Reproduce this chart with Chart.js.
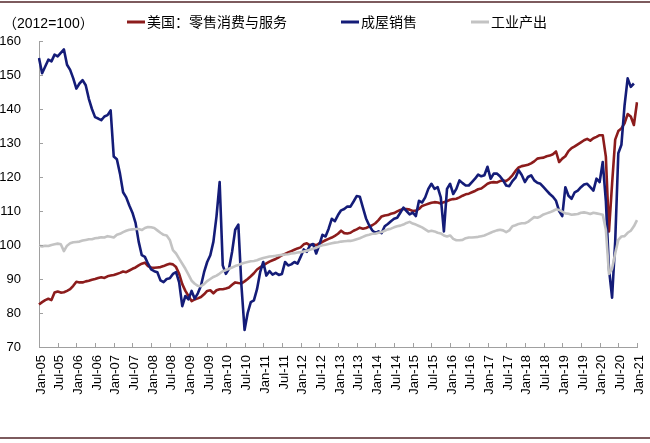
<!DOCTYPE html>
<html>
<head>
<meta charset="utf-8">
<script src="https://cdn.jsdelivr.net/npm/chart.js@4.4.1/dist/chart.umd.min.js"></script>
<style>
  html, body { margin: 0; padding: 0; background: #fff; }
  #wrap { width: 650px; height: 443px; }
</style>
</head>
<body>
<div id="wrap"><canvas id="chart" width="650" height="443"></canvas></div>
<script>
// monthly, Jan-05 .. Jan-21, index 2012=100
const MONTH_NAMES = ["Jan","Feb","Mar","Apr","May","Jun","Jul","Aug","Sep","Oct","Nov","Dec"];
const months = [];
for (let y = 2005; y <= 2021; y++) {
  for (let m = 0; m < 12; m++) {
    if (months.length < 193) months.push(MONTH_NAMES[m] + "-" + String(y).slice(2));
  }
}

const yTicks = [70, 80, 90, 100, 110, 120, 130, 140, 150, 160];
const unitLabel = "（2012=100）";

const retail = [
  82.5, 83.2, 83.8, 84.2, 83.8, 86, 86.3, 86, 86.1, 86.5, 87, 88, 89.2, 89, 89, 89.3, 89.5, 89.8, 90, 90.3,
  90.5, 90.3, 90.8, 91, 91.2, 91.5, 91.8, 92.2, 92, 92.5, 93, 93.4, 94, 94.5, 94.8, 93.8, 93.4, 93.3, 93.4,
  93.5, 93.8, 94.2, 94.5, 94.3, 93.5, 91.5, 88.5, 86.5, 85, 83.5, 84, 84.3, 84.7, 85.5, 86.5, 86.7, 85.8, 86.7,
  87, 87, 87.2, 87.5, 88.3, 89, 88.8, 88.7, 89.3, 90, 90.8, 91.7, 92.8, 93.4, 94, 94.6, 95.1, 95.5, 95.9, 96.4,
  97, 97.4, 97.8, 98.2, 98.6, 99, 99.3, 100.2, 100.5, 99.9, 100.2, 99.9, 100.5, 100.9, 101.4, 101.8, 102.2, 102.7,
  103.3, 104.2, 103.5, 103.4, 103.6, 104.2, 104.6, 105.1, 104.8, 105, 105.4, 105.8, 106.4, 107.3, 108.4, 108.7,
  108.8, 109.2, 109.4, 109.9, 110.3, 110.6,
  110.6, 110.4, 110, 110.1, 110.6, 111.5, 111.8, 112.1, 112.4, 112.6, 112.5, 112.2, 112.6, 112.9, 113.3, 113.5,
  113.6, 114, 114.5, 114.9, 115.1, 115.5, 115.9, 116.4, 116.6, 117.3, 118, 118.4, 118.5, 118.4, 118.8, 119, 118.8,
  119.5, 120.5, 121.8, 122.8, 123.2,
  123.4, 123.6, 124, 124.6, 125.4, 125.6, 125.7, 126.1, 126.3, 126.7, 127.5, 124.4, 125.4, 126.1, 127.6, 128.5,
  129, 129.6, 130.2, 130.8, 131.2, 130.7, 131.4, 131.8, 132.3, 132.3, 126, 104, 118, 131, 133.5, 134.3, 135.8,
  138.5, 137.8, 135.3, 142
];

const homeSales = [
  155, 150.5, 152.5, 154.5, 154, 156, 155.5, 156.5, 157.5, 153, 151.5, 149, 146, 147.5, 148.5, 147, 143, 140,
  137.6, 137.2, 136.7, 137.8, 138.2, 139.6, 126, 125.2, 121, 115.5, 114, 111.6, 109.5, 106.5, 101, 97, 96.5, 94.5,
  92.8, 92.3, 92,
  89.6, 89.1, 90, 90.2, 91.5, 92, 89, 82, 85, 84, 86.5, 84.2, 85.8, 88, 92, 95, 97, 101, 108.5, 118.5, 94, 91.5,
  93, 98, 104.5, 106, 88, 75, 80, 83.2, 83.7, 87, 92, 95, 91, 92.3, 91.3, 91.8, 91.2,
  91.5, 95, 94, 94.3, 95, 94.5, 96.5, 98.7, 98, 99.9, 100.3, 97.5, 100, 103, 102.5, 104.8, 107.7, 107, 108.8,
  110.2, 110.6, 111.3, 111.3, 112.8, 114.4, 114.2, 111, 107.8, 105.8, 104.3, 103.5, 104, 103.5, 105.5, 106.2, 107,
  107.7, 108, 109.5, 111,
  110, 109, 109.5, 108.5, 113, 112.5, 114, 116.5, 118, 116.5, 117, 114, 104, 116.5, 118, 115, 116.5, 119, 118.2,
  117.5, 117.5, 118.5, 119.5, 120.7, 120.2, 120.5, 123, 119.5, 121, 121, 120.2, 119, 117.5, 117.3, 118.8, 119.8,
  122, 120.6,
  118.5, 120, 120.5, 119, 118.3, 118, 117, 116, 115, 114.2, 113, 110, 108.5, 117, 114.5, 113.6, 115.5, 116, 117,
  117.8, 118, 117, 116, 119.5, 118.5, 124.4, 113, 93, 84.5, 101, 127, 129.5, 141, 149, 146.5, 147.5, null
];

const industry = [
  99.8, 99.6, 99.8, 99.7, 100, 100.2, 100.4, 100.2, 98.2, 99.8, 100.5, 100.8, 100.9, 101, 101.3, 101.5, 101.7,
  101.7, 102, 102.1, 102.3, 102.2, 102.6, 102.4, 102.2, 103, 103.3, 103.8, 104.2, 104.5, 104.6, 104.7, 104.7,
  104.4, 105, 105.3, 105.2, 105, 104.3,
  103.6, 103, 102.8, 101.5, 98.5, 97.5, 96, 94.5, 93, 91.3, 89.5, 88.6, 88, 87.9, 88.5, 89.4, 90, 90.6, 91, 91.6,
  92.3, 92.6, 93, 93.4, 93.8, 94.1, 94.5, 94.8, 95, 95.2, 95.3, 95.5, 95.9, 96.2, 96.4, 96.6, 96.7, 96.8, 97,
  97.1, 97.2, 97.3, 97.5, 97.6, 97.8, 97.9, 98.1, 98.3, 98.6, 98.9, 99.2, 99.6, 99.9, 100.1, 100.3, 100.5, 100.7,
  100.8, 101, 101.1, 101.2, 101.2, 101.4, 101.7, 102, 102.4, 102.8, 103, 103.3, 103.3, 103.6, 103.8, 104.2,
  104.6, 104.8, 105.2, 105.5, 105.7, 106,
  106.5, 106.8, 106.3, 106, 105.6, 105.2, 104.6, 104, 104.2, 104, 103.6, 103.4, 102.8, 102.5, 102.8, 101.8,
  101.4, 101.4, 101.5, 102, 102.2, 102.2, 102.3, 102.4, 102.6, 102.8, 103.2, 103.6, 104, 104.3, 104.5, 104.3,
  103.8, 104.3, 105.5, 105.8, 106.2, 106.4,
  106.4, 106.8, 107.5, 108.2, 108, 108.4, 109, 109.3, 109.6, 110, 110.5, 110.3, 109.8, 109.3, 109.2, 108.9, 109,
  109.1, 109.5, 109.6, 109.4, 109.1, 109.5, 109.3, 109.1, 108.9, 104.5, 91.5, 93, 97.5, 101.5, 102.5, 102.6,
  103.6, 104.2, 105.5, 107.3
];

const AXIS = "#a0a0a0";
const NUM_FONT = "'Liberation Sans', Arial, sans-serif";
const CJK_FONT = "'Noto Sans CJK SC', sans-serif";

// inner tick marks, unit label, legend, page rules
const decor = {
  id: "decor",
  beforeDraw(chart) {
    const ctx = chart.ctx;
    ctx.save();
    ctx.fillStyle = "#fff";
    ctx.fillRect(0, 0, chart.width, chart.height);
    ctx.restore();
  },
  afterDraw(chart) {
    const { ctx, chartArea: a } = chart;
    const x = chart.scales.x, y = chart.scales.y;
    ctx.save();

    ctx.strokeStyle = AXIS;
    ctx.lineWidth = 1;
    ctx.beginPath();
    yTicks.forEach(v => {
      const py = Math.round(y.getPixelForValue(v)) + 0.5;
      ctx.moveTo(a.left, py);
      ctx.lineTo(a.left + 4, py);
    });
    for (let i = 0; i < months.length; i += 6) {
      const px = Math.round(x.getPixelForValue(i)) + 0.5;
      ctx.moveTo(px, a.bottom);
      ctx.lineTo(px, a.bottom - 4);
    }
    ctx.stroke();

    ctx.strokeStyle = "#7d5b5e";
    ctx.lineWidth = 2;
    ctx.beginPath();
    ctx.moveTo(0, 2); ctx.lineTo(chart.width, 2);
    ctx.moveTo(0, 438); ctx.lineTo(chart.width, 438);
    ctx.stroke();

    ctx.fillStyle = "#000";
    ctx.textBaseline = "middle";
    ctx.font = "14px " + NUM_FONT + ", " + CJK_FONT;
    ctx.fillText(unitLabel, 3, 24);

    ctx.font = "14px " + CJK_FONT;
    let lx = 127;
    chart.data.datasets.forEach(ds => {
      ctx.strokeStyle = ds.borderColor;
      ctx.lineWidth = 3;
      ctx.beginPath();
      ctx.moveTo(lx, 22);
      ctx.lineTo(lx + 18, 22);
      ctx.stroke();
      ctx.fillText(ds.label, lx + 20, 22);
      lx += 20 + ctx.measureText(ds.label).width + 54;
    });
    ctx.restore();
  }
};

new Chart(document.getElementById("chart"), {
  type: "line",
  data: {
    labels: months,
    datasets: [
      { label: "美国：零售消费与服务", data: retail, borderColor: "#8c1c1c", order: 3 },
      { label: "成屋销售", data: homeSales, borderColor: "#141c78", order: 2 },
      { label: "工业产出", data: industry, borderColor: "#c3c3c3", order: 1 }
    ]
  },
  options: {
    responsive: false,
    animation: false,
    layout: { padding: { top: 41, right: 13, left: 0, bottom: 0 } },
    elements: {
      point: { radius: 0 },
      line: { borderWidth: 2.6, tension: 0, borderJoinStyle: "round" }
    },
    plugins: { legend: { display: false }, tooltip: { enabled: false } },
    scales: {
      x: {
        offset: false,
        grid: { display: false, drawTicks: false },
        border: { color: AXIS },
        ticks: {
          autoSkip: false,
          minRotation: 90,
          maxRotation: 90,
          padding: 8,
          labelOffset: 2,
          color: "#000",
          font: { family: NUM_FONT, size: 13 },
          callback: (v, i) => (i % 6 === 0 ? months[i] : null)
        },
        afterFit: s => {
          s.height = 96;
          s.paddingLeft = 0;
          s.paddingRight = 0;
        }
      },
      y: {
        min: 70,
        max: 160,
        afterBuildTicks: s => { s.ticks = yTicks.map(v => ({ value: v })); },
        grid: { display: false, drawTicks: false },
        border: { color: AXIS },
        ticks: { padding: 18, color: "#000", font: { family: NUM_FONT, size: 13 } },
        afterFit: s => { s.width = 39; }
      }
    }
  },
  plugins: [decor]
});
</script>
</body>
</html>
